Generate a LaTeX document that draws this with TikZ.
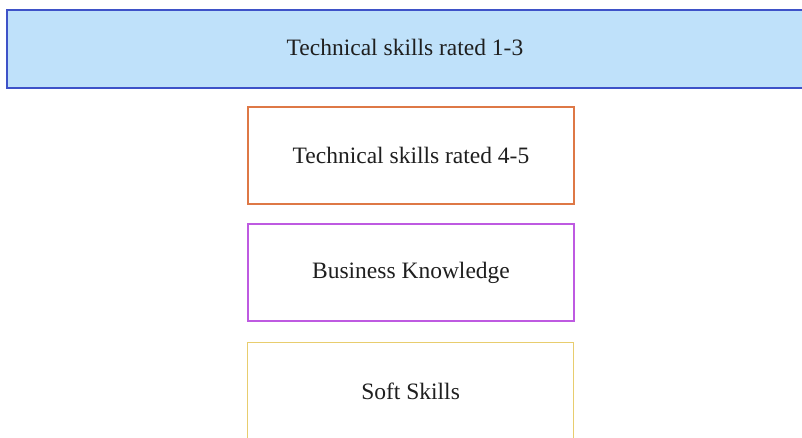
\documentclass[tikz,border=0pt]{standalone}
\usepackage{fontspec}
\setmainfont{Liberation Serif}
\definecolor{topfill}{RGB}{191,225,250}
\definecolor{topline}{RGB}{62,82,200}
\definecolor{orangeline}{RGB}{222,120,70}
\definecolor{purpleline}{RGB}{190,90,225}
\definecolor{yellowline}{RGB}{232,205,110}
\tikzset{
  label font/.style={font=\fontsize{23.5}{26}\selectfont, text=black!88},
  skillbox/.style={rectangle, minimum width=326pt, minimum height=97pt, fill=white,
    label font, inner sep=0pt},
}
\begin{document}
\begin{tikzpicture}[x=1pt,y=-1pt]
\useasboundingbox (0,0) rectangle (802,437);
\fill[white] (0,0) rectangle (802,437);
% top band running past the right edge
\node[rectangle, fill=topfill, draw=topline, line width=2.2pt, anchor=north west,
  minimum width=812pt, minimum height=78pt, inner sep=0pt] (low) at (6,9) {};
\node[label font] (lowtext) at (405,47) {Technical skills rated 1-3};
\node[skillbox, draw=orangeline, line width=2pt, anchor=north west] (high) at (247,106) {Technical skills rated 4-5};
\node[skillbox, draw=purpleline, line width=2pt, anchor=north west] (biz) at (247,223) {Business Knowledge};
\node[skillbox, draw=yellowline, line width=1.2pt, anchor=north west] (soft) at (247,342) {Soft Skills};
\end{tikzpicture}
\end{document}
